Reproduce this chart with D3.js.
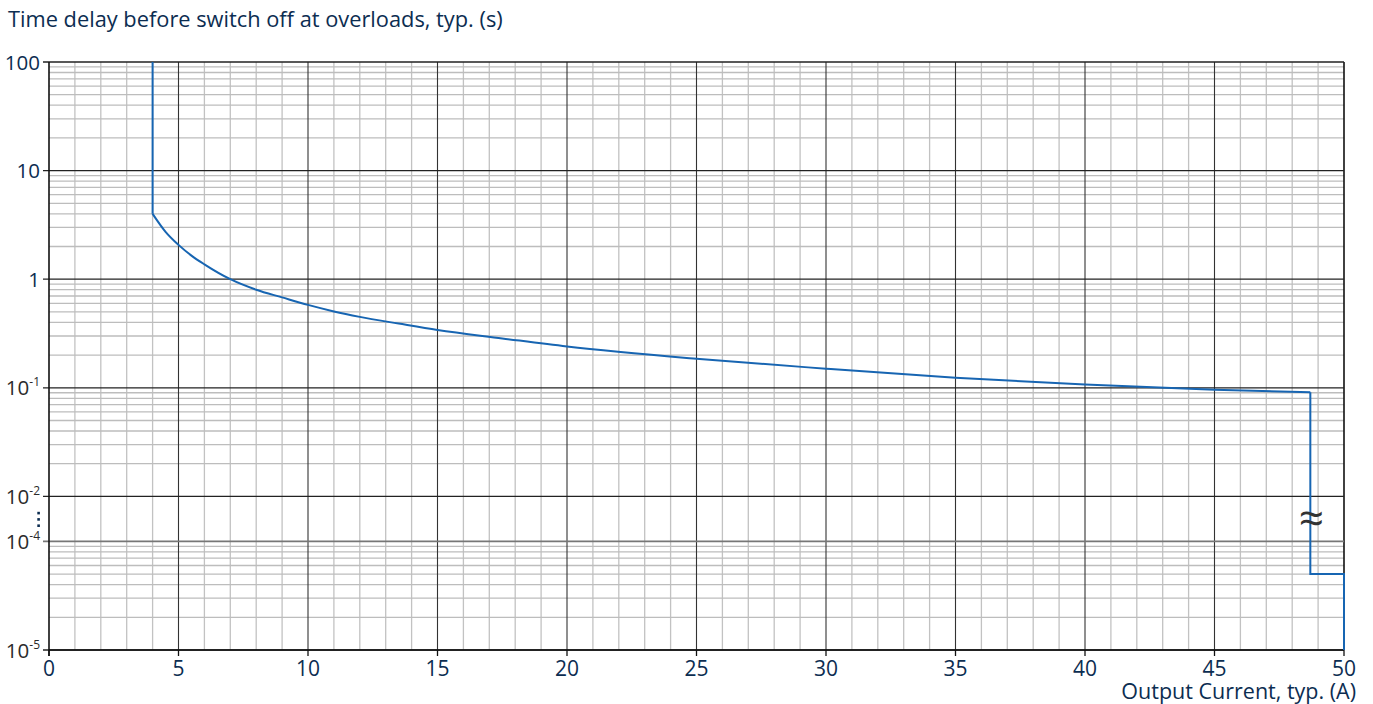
<!DOCTYPE html>
<html>
<head>
<meta charset="utf-8">
<script src="https://cdn.jsdelivr.net/npm/d3@7/dist/d3.min.js"></script>
<style>
  html, body { margin: 0; padding: 0; background: #fff; }
  svg { display: block; font-family: "Open Sans", "Noto Sans", sans-serif; }
</style>
</head>
<body>
<svg id="chart" width="1373" height="704"></svg>
<script>
// ---------- data ----------
const currentA = [4, 4.5, 5, 5.5, 6, 7, 8, 9, 10, 11, 12, 13.5, 15, 17.5, 20, 25, 30, 35, 40, 45, 48.7];
const delayS   = [4.0, 2.73, 2.07, 1.65, 1.37, 1.0, 0.8, 0.68, 0.58, 0.505, 0.45, 0.39, 0.34, 0.285, 0.24, 0.185, 0.15, 0.124, 0.107, 0.096, 0.091];
const startStep = [[4, 100], [4, 4.0]];
const endStep   = [[48.7, 0.091], [48.7, 5e-5], [50, 5e-5], [50, 1e-5]];
const xTicks = [0, 5, 10, 15, 20, 25, 30, 35, 40, 45, 50];
const yTicks = [100, 10, 1, 0.1, 0.01, 1e-4, 1e-5];
const yTickLabels = [
  {base: "100", exp: null},
  {base: "10", exp: null},
  {base: "1", exp: null},
  {base: "10", exp: "-1"},
  {base: "10", exp: "-2"},
  {base: "10", exp: "-4"},
  {base: "10", exp: "-5"}
];
const upperDecades = [0.01, 0.1, 1, 10];   // decade starts above the break
const lowerDecades = [1e-5];               // decade starts below the break
const titleText = "Time delay before switch off at overloads, typ. (s)";
const xTitleText = "Output Current, typ. (A)";

(function () {
// ---------- layout ----------
const svg = d3.select("#chart");
const pl = 49, pr = 1344, pt = 62, pb = 650;
const gap = 45;
const decadeH = (pb - pt - gap) / 5;
const navy = "#0c2d51";
const lineBlue = "#1765b2";

const x = d3.scaleLinear().domain([0, 50]).range([pl, pr]);
const yTop = d3.scaleLog().domain([0.01, 100]).range([pt + 4 * decadeH, pt]);
const yBot = d3.scaleLog().domain([1e-5, 1e-4]).range([pb, pb - decadeH]);
const yGap = d3.scaleLog().domain([1e-4, 0.01]).range([pb - decadeH, pt + 4 * decadeH]);
function y(v) {
  if (v >= 0.01) return yTop(v);
  if (v <= 1e-4) return yBot(v);
  return yGap(v);
}

const grid = svg.append("g");

// vertical grid
const xs = d3.range(0, 51, 1);
grid.selectAll("line.vx").data(xs.filter(d => d % 5 !== 0)).join("line")
  .attr("x1", d => x(d)).attr("x2", d => x(d))
  .attr("y1", pt).attr("y2", pb)
  .attr("stroke", "#c2c2c2").attr("stroke-width", 1.3);

// horizontal minor grid
const minor = [];
upperDecades.concat(lowerDecades).forEach(b => {
  for (let k = 2; k <= 9; k++) minor.push(b * k);
});
grid.selectAll("line.hm").data(minor).join("line")
  .attr("x1", pl).attr("x2", pr)
  .attr("y1", d => y(d)).attr("y2", d => y(d))
  .attr("stroke", "#bdbdbd").attr("stroke-width", 1.3);

// major vertical
grid.selectAll("line.vM").data(xs.filter(d => d % 5 === 0 && d > 0)).join("line")
  .attr("x1", d => x(d)).attr("x2", d => x(d))
  .attr("y1", pt).attr("y2", pb)
  .attr("stroke", d => d === 50 ? "#111" : "#333").attr("stroke-width", d => d === 50 ? 1.6 : 1.1);

// major horizontal
grid.selectAll("line.hM").data(yTicks).join("line")
  .attr("x1", pl - 6).attr("x2", pr)
  .attr("y1", d => y(d)).attr("y2", d => y(d))
  .attr("stroke", d => d === 1e-4 ? "#777" : "#222")
  .attr("stroke-width", d => d === 1e-4 ? 1.6 : 1.3);

// axes lines
svg.append("line").attr("x1", pl).attr("x2", pl).attr("y1", pt).attr("y2", pb + 6)
  .attr("stroke", "#111").attr("stroke-width", 1.6);
svg.append("line").attr("x1", pl).attr("x2", pr).attr("y1", pb).attr("y2", pb)
  .attr("stroke", "#111").attr("stroke-width", 1.6);
svg.selectAll("line.xt").data(xTicks).join("line")
  .attr("x1", d => x(d)).attr("x2", d => x(d))
  .attr("y1", pb).attr("y2", pb + 6)
  .attr("stroke", "#111").attr("stroke-width", 1.3);

// x tick labels
svg.selectAll("text.xl").data(xTicks).join("text")
  .attr("x", d => x(d)).attr("y", pb + 25.5)
  .attr("text-anchor", "middle").attr("fill", navy)
  .attr("font-size", 21).text(d => d);

// y tick labels
const yl = svg.selectAll("text.yl").data(yTicks).join("text")
  .attr("x", 40).attr("y", d => y(d) + 7.5)
  .attr("text-anchor", "end")
  .attr("fill", (d, i) => yTickLabels[i].exp ? "#2b2b2b" : navy)
  .attr("font-size", 20.5);
yl.each(function(d, i) {
  const t = d3.select(this);
  const lab = yTickLabels[i];
  t.append("tspan").text(lab.base);
  if (lab.exp) t.append("tspan").attr("dy", -9).attr("font-size", 12).text(lab.exp);
});

// vertical ellipsis between 10^-2 and 10^-4
svg.selectAll("rect.dot").data([0, 1, 2]).join("rect")
  .attr("x", 37.3).attr("y", d => 511.8 + d * 6.3).attr("width", 2.6).attr("height", 2.6)
  .attr("fill", navy);

// curve
const pts = currentA.map((c, i) => [c, delayS[i]]);
const lineGen = d3.line().x(d => x(d[0])).y(d => y(d[1]));
svg.append("path").datum(pts)
  .attr("d", lineGen.curve(d3.curveMonotoneX))
  .attr("fill", "none").attr("stroke", lineBlue).attr("stroke-width", 2);
const lin = d3.line().x(d => x(d[0])).y(d => y(d[1]));
[startStep, endStep].forEach(s => {
  svg.append("path").datum(s).attr("d", lin)
    .attr("fill", "none").attr("stroke", lineBlue).attr("stroke-width", 2)
    .attr("stroke-linejoin", "miter");
});

// break symbol
svg.append("text").attr("x", x(48.7) + 1).attr("y", (y(0.01) + y(1e-4)) / 2 + 15)
  .attr("text-anchor", "middle").attr("font-size", 44).attr("fill", "#333")
  .text("≈");

// titles
svg.append("text").attr("x", 8).attr("y", 27).attr("fill", navy)
  .attr("font-size", 21.8).text(titleText);
svg.append("text").attr("x", 1356).attr("y", 698.5).attr("fill", navy)
  .attr("text-anchor", "end").attr("font-size", 21.5).text(xTitleText);
})();
</script>
</body>
</html>
